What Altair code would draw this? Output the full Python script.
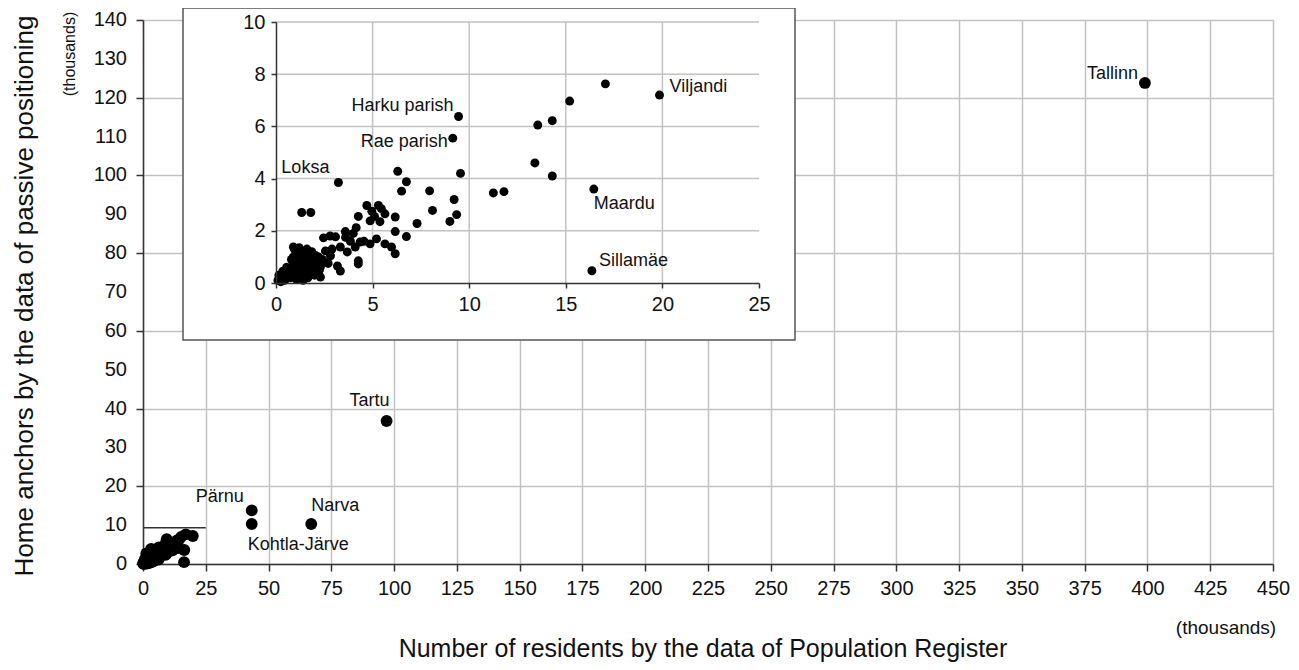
import altair as alt
import pandas as pd

FONT = "Liberation Sans"

# ---------------- data (thousands) ----------------
# large towns shown only on the main scale
big_names = ["Tallinn", "Tartu", "Pärnu", "Kohtla-Järve", "Narva"]
big_x = [399.0, 97.0, 43.3, 43.3, 67.0]
big_y = [123.8, 36.8, 13.8, 10.3, 10.3]

# labelled municipalities of the inset
named_names = ["Viljandi", "Harku parish", "Rae parish", "Loksa", "Maardu", "Sillamäe"]
named_x = [19.85, 9.45, 9.15, 3.23, 16.45, 16.35]
named_y = [7.2, 6.38, 5.55, 3.85, 3.6, 0.47]

# other municipalities
other_x = [17.05, 15.2, 14.3, 13.55, 13.4, 14.3, 11.25, 11.8, 9.55, 6.3, 6.75, 6.5,
           7.95, 8.1, 9.22, 9.35, 9.0, 7.3, 6.75, 6.17, 6.17, 6.17, 5.98,
           1.33, 1.8,
           4.7, 5.3, 4.96, 5.64, 4.26, 4.87, 5.38, 4.15, 5.1, 5.45,
           3.59, 2.46, 3.08, 2.8, 3.85, 4.36, 4.1, 4.87, 5.2, 5.64, 3.33, 3.69,
           4.26, 4.26, 2.56, 2.82, 3.18, 3.33, 2.3, 2.3, 0.9, 3.6, 4.0, 4.55,
           0.1, 0.2, 0.3, 0.25, 0.4, 0.5, 0.45, 0.6, 0.7, 0.65, 0.8, 0.75, 0.9,
           0.85, 1.0, 1.0, 1.1, 1.1, 1.2, 1.25, 1.3, 1.35, 1.4, 1.45, 1.5, 1.55,
           1.6, 1.65, 1.7, 1.75, 1.8, 1.85, 1.9, 2.0, 2.05, 2.1, 2.2, 2.25, 2.4,
           2.5, 0.95, 1.2, 0.55, 0.35, 0.15, 1.05, 1.4, 0.8, 1.6, 2.0, 2.7, 2.9,
           0.9, 1.3]
other_y = [7.63, 6.97, 6.22, 6.05, 4.6, 4.1, 3.45, 3.5, 4.2, 4.28, 3.88, 3.52,
           3.53, 2.78, 3.2, 2.62, 2.36, 2.28, 1.78, 1.97, 2.53, 1.12, 1.38,
           2.7, 2.7,
           2.97, 2.97, 2.75, 2.65, 2.55, 2.38, 2.35, 2.12, 2.55, 2.85,
           1.97, 1.73, 1.77, 1.8, 1.6, 1.57, 1.38, 1.5, 1.69, 1.5, 1.38, 1.19,
           0.85, 0.73, 1.23, 1.04, 0.65, 0.46, 0.62, 0.23, 1.38, 1.75, 1.9, 1.6,
           0.1, 0.15, 0.2, 0.05, 0.3, 0.25, 0.1, 0.4, 0.3, 0.55, 0.5, 0.2, 0.7,
           0.35, 0.6, 0.9, 0.45, 1.1, 0.8, 0.3, 0.6, 1.0, 0.75, 0.4, 1.15, 0.9,
           0.6, 0.2, 1.0, 0.75, 0.45, 1.2, 0.9, 0.65, 1.05, 0.85, 1.0, 0.5, 0.9,
           0.8, 1.3, 1.35, 0.6, 0.45, 0.3, 0.15, 0.1, 0.9, 1.3, 0.3, 0.75, 1.3,
           1.0, 0.25]

# ticks
main_x_ticks = [0, 25, 50, 75, 100, 125, 150, 175, 200, 225, 250, 275, 300,
                325, 350, 375, 400, 425, 450]
main_y_ticks = [0, 10, 20, 30, 40, 50, 60, 70, 80, 90, 100, 110, 120, 130, 140]
inset_x_ticks = [0, 5, 10, 15, 20, 25]
inset_y_ticks = [0, 2, 4, 6, 8, 10]
inset_x_grid = [5, 10, 15, 20]
inset_y_grid = [2, 4, 6, 8, 10]
inset_extent = {"x0": 0, "x1": 25, "y": 9.3}   # outline of the zoomed area on the main chart

y_title = "Home anchors by the data of passive positioning"
x_title = "Number of residents by the data of Population Register"
unit = "(thousands)"

# ---------------- layout / style ----------------
W, H = 1130, 544
GRID = "#c2c2c2"
INK = "#111111"

small_pts = pd.DataFrame({"x": named_x + other_x, "y": named_y + other_y})
big_pts = pd.DataFrame({"x": big_x, "y": big_y, "name": big_names})
all_pts = pd.concat([small_pts, big_pts[["x", "y"]]], ignore_index=True)

mx = alt.Scale(domain=[0, 450], nice=False, zero=False)
my = alt.Scale(domain=[0, 140], nice=False, zero=False)

axis_common = dict(title=None, domainColor="#333", domainWidth=1.5, tickColor="#333", tickWidth=1.5,
                   labelFont=FONT, labelColor=INK, format="d", labelFlush=False, labelOverlap=False)

main_x_axis = alt.Axis(values=main_x_ticks, grid=True, gridColor=GRID, gridWidth=1.5,
                       tickSize=7, labelFontSize=20, labelPadding=7, **axis_common)
main_y_axis = alt.Axis(values=main_y_ticks, grid=True, gridColor=GRID, gridWidth=1.5,
                       tickSize=7, labels=False, **axis_common)

main_points = alt.Chart(all_pts).mark_circle(size=140, color="#000", opacity=1).encode(
    x=alt.X("x:Q", scale=mx, axis=main_x_axis),
    y=alt.Y("y:Q", scale=my, axis=main_y_axis),
)

# main y tick labels drawn as text through the y scale
y_tick_labels = alt.Chart(pd.DataFrame({"v": main_y_ticks})).mark_text(
    font=FONT, fontSize=20, color=INK, align="right", baseline="middle"
).encode(x=alt.value(-16), y=alt.Y("v:Q", scale=my), text=alt.Text("v:Q", format="d"))

zoom_rule = alt.Chart(pd.DataFrame([inset_extent])).mark_rule(color="#333", strokeWidth=1.5).encode(
    x=alt.X("x0:Q", scale=mx), x2="x1:Q", y=alt.Y("y:Q", scale=my)
)

big_style = {
    "Tallinn": dict(align="right", dx=-7, dy=-9),
    "Tartu": dict(align="right", dx=3, dy=-20),
    "Pärnu": dict(align="right", dx=-8, dy=-13),
    "Kohtla-Järve": dict(align="left", dx=-4, dy=21),
    "Narva": dict(align="left", dx=0, dy=-18),
}
big_labels = []
for nm in big_names:
    st = big_style[nm]
    big_labels.append(
        alt.Chart(big_pts[big_pts["name"] == nm]).mark_text(
            font=FONT, fontSize=18, color=INK, baseline="middle", **st
        ).encode(x=alt.X("x:Q", scale=mx), y=alt.Y("y:Q", scale=my), text="name:N")
    )

one = pd.DataFrame({"t": [0]})


def free_text(txt, px, py, size, angle=0):
    kw = dict(font=FONT, fontSize=size, color=INK, align="center", baseline="middle")
    if angle:
        kw["angle"] = angle
    return alt.Chart(pd.DataFrame({"t": [txt]})).mark_text(**kw).encode(
        x=alt.value(px), y=alt.value(py), text="t:N")


titles = [
    free_text(y_title, -118, 276, 26, 270),
    free_text(unit, -73, 34, 16, 270),
    free_text(x_title, 560, 629, 25),
    free_text(unit, 1083, 608, 19),
]

main = alt.layer(main_points, y_tick_labels, zoom_rule, *big_labels, *titles)

# ---------------- inset ----------------
ix = alt.Scale(domain=[0, 25], range=[133, 616], nice=False, zero=False)
iy = alt.Scale(domain=[0, 10], range=[263, 2], nice=False, zero=False)

inset_x_axis = alt.Axis(values=inset_x_ticks, grid=False, orient="bottom", offset=263 - H, zindex=1,
                        tickSize=5, labelFontSize=20, labelPadding=6, **axis_common)
inset_y_axis = alt.Axis(values=inset_y_ticks, grid=False, orient="left", offset=-133, zindex=1,
                        tickSize=5, labelFontSize=20, labelPadding=6, **axis_common)

box = alt.Chart(one).mark_rect(fill="white", stroke="#555", strokeWidth=1.5).encode(
    x=alt.value(40), x2=alt.value(652), y=alt.value(-12), y2=alt.value(320)
)

vgrid = alt.Chart(pd.DataFrame({"g": inset_x_grid, "a": [0] * 4, "b": [10] * 4})).mark_rule(
    color=GRID, strokeWidth=1.5).encode(
    x=alt.X("g:Q", scale=ix, axis=inset_x_axis), y=alt.Y("a:Q", scale=iy, axis=inset_y_axis), y2="b:Q")
hgrid = alt.Chart(pd.DataFrame({"g": inset_y_grid, "a": [0] * 5, "b": [25] * 5})).mark_rule(
    color=GRID, strokeWidth=1.5).encode(
    y=alt.Y("g:Q", scale=iy), x=alt.X("a:Q", scale=ix), x2="b:Q")

inset_points = alt.Chart(small_pts).mark_circle(size=80, color="#000", opacity=1).encode(
    x=alt.X("x:Q", scale=ix), y=alt.Y("y:Q", scale=iy))

named_df = pd.DataFrame({"x": named_x, "y": named_y, "name": named_names})
named_style = {
    "Viljandi": dict(align="left", dx=10, dy=-8),
    "Harku parish": dict(align="right", dx=-5, dy=-10),
    "Rae parish": dict(align="right", dx=-5, dy=4),
    "Loksa": dict(align="right", dx=-9, dy=-15),
    "Maardu": dict(align="left", dx=0, dy=15),
    "Sillamäe": dict(align="left", dx=7, dy=-10),
}
inset_labels = []
for nm in named_names:
    st = named_style[nm]
    inset_labels.append(
        alt.Chart(named_df[named_df["name"] == nm]).mark_text(
            font=FONT, fontSize=18, color=INK, baseline="middle", **st
        ).encode(x=alt.X("x:Q", scale=ix), y=alt.Y("y:Q", scale=iy), text="name:N")
    )

inset = alt.layer(box, vgrid, hgrid, inset_points, *inset_labels)

chart = alt.layer(main, inset).resolve_scale(x="independent", y="independent").properties(
    width=W, height=H,
    padding={"left": 135, "top": 12, "right": 18, "bottom": 98},
    autosize=alt.AutoSizeParams(type="none"),
).configure_view(stroke=None).configure(background="white")

chart.save("out.html", embed_options={"renderer": "svg", "actions": False})
